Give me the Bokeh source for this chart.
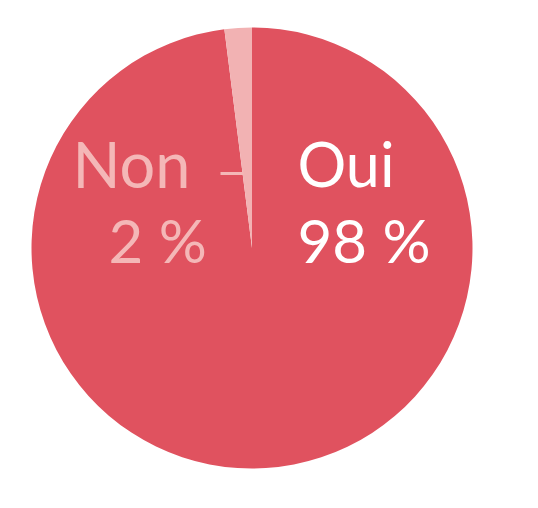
import math
from bokeh.plotting import figure
from bokeh.models import ColumnDataSource
from bokeh.core.properties import value
from bokeh.embed import file_html
from bokeh.resources import INLINE

# Data
categories = ["Oui", "Non"]
values = [98, 2]
labels = ["Oui", "Non"]
pct_labels = ["98 %", "2 %"]
colors = ["#E0525F", "#F2B2B3"]

# angles: Non slice starts at 12 o'clock and goes counter-clockwise
total = sum(values)
non_frac = values[1] / total
start_non = math.pi / 2
end_non = start_non + non_frac * 2 * math.pi
starts = [end_non, start_non]
ends = [start_non + 2 * math.pi, end_non]

src = ColumnDataSource(dict(cat=categories, val=values, start=starts, end=ends, color=colors))

W, H = 522, 492
p = figure(width=W, height=H, x_range=(0, W), y_range=(0, H),
           output_backend="svg", toolbar_location=None, min_border=0)
p.axis.visible = False
p.grid.visible = False
p.outline_line_color = None
p.background_fill_color = "white"
p.border_fill_color = "white"

cx, cy, r = 251.5, 244.5, 220.5
p.wedge(x=cx, y=cy, radius=r, radius_units="screen", start_angle="start", end_angle="end",
        fill_color="color", line_color=None, source=src)

# leader dash for Non
p.segment(x0=[220], y0=[319], x1=[243], y1=[319], line_color="#F4B7B7", line_width=3)

font = value("Lato")
p.text(x=[72], y=[329], text=[labels[1]], text_font=font, text_font_size="63px",
       text_color="#F4B7B7", text_align="left", text_baseline="alphabetic")
p.text(x=[108], y=[253], text=[pct_labels[1]], text_font=font, text_font_size="60px",
       text_color="#F4B7B7", text_align="left", text_baseline="alphabetic")
p.text(x=[297], y=[329], text=[labels[0]], text_font=font, text_font_size="61px",
       text_color="white", text_align="left", text_baseline="alphabetic")
p.text(x=[297], y=[253], text=[pct_labels[0]], text_font=font, text_font_size="60px",
       text_color="white", text_align="left", text_baseline="alphabetic")

open("out.html", "w").write(file_html(p, INLINE))
